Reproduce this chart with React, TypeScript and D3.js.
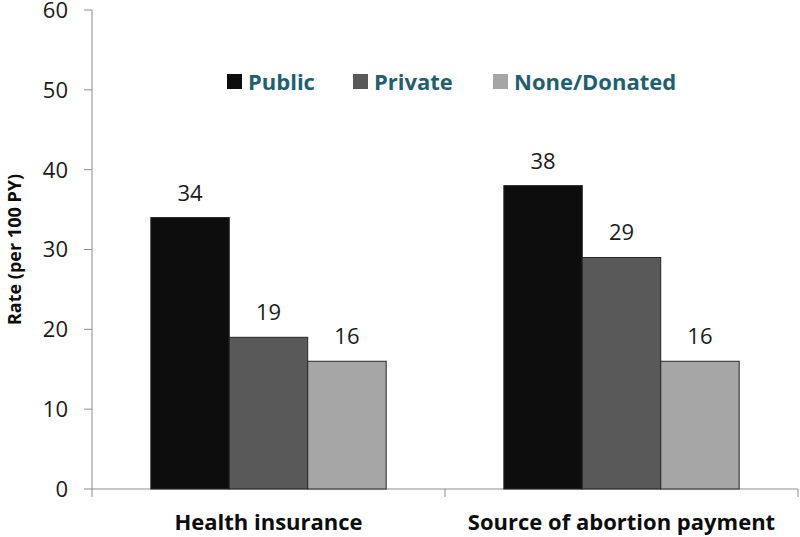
import React from "react";
import * as d3 from "d3";

const categories = ["Health insurance", "Source of abortion payment"];
const seriesNames = ["Public", "Private", "None/Donated"];
const publicValues = [34, 38];
const privateValues = [19, 29];
const noneValues = [16, 16];
const yTicks = [0, 10, 20, 30, 40, 50, 60];
const seriesColors = ["#0d0d0d", "#595959", "#a6a6a6"];

const W = 800;
const H = 537;
const FONT = "'Open Sans', 'DejaVu Sans', sans-serif";

export default function App() {
  const x0 = 92, x1 = 798, yTop = 10, yBottom = 489;
  const x = d3.scaleBand<string>().domain(categories).range([x0, x1]).paddingInner(0).paddingOuter(0);
  const xs = d3.scaleBand<string>().domain(seriesNames).range([0, x.bandwidth()]).paddingInner(0).paddingOuter(0.75);
  const y = d3.scaleLinear().domain([0, 60]).range([yBottom, yTop]);
  const values = [publicValues, privateValues, noneValues];

  return (
    <svg width={W} height={H} style={{ position: "absolute", left: 0, top: 0, background: "#fff" }}>
      <rect x={0} y={0} width={W} height={H} fill="#fff" />
      {/* y axis */}
      <line x1={x0} x2={x0} y1={yTop} y2={yBottom} stroke="#8c8c8c" strokeWidth={1} />
      {yTicks.map((t) => (
        <g key={t}>
          <line x1={x0 - 8} x2={x0} y1={y(t)} y2={y(t)} stroke="#8c8c8c" />
          <text x={68} y={y(t)} dy="0.36em" textAnchor="end" fontFamily={FONT} fontSize={22} fill="#1a1a1a">
            {t}
          </text>
        </g>
      ))}
      {/* x axis */}
      <line x1={x0} x2={x1} y1={yBottom} y2={yBottom} stroke="#8c8c8c" />
      {[x0, x1 - x.bandwidth(), x1].map((v, i) => (
        <line key={i} x1={v} x2={v} y1={yBottom} y2={yBottom + 8} stroke="#8c8c8c" />
      ))}
      {/* bars */}
      {categories.map((c, ci) =>
        seriesNames.map((s, si) => {
          const v = values[si][ci];
          const bx = (x(c) as number) + (xs(s) as number);
          return (
            <g key={c + s}>
              <rect x={bx} y={y(v)} width={xs.bandwidth()} height={yBottom - y(v)} fill={seriesColors[si]} stroke="#262626" strokeWidth={1} />
              <text x={bx + xs.bandwidth() / 2} y={y(v) - 17} textAnchor="middle" fontFamily={FONT} fontSize={22} fill="#1a1a1a">
                {v}
              </text>
            </g>
          );
        })
      )}
      {/* category labels */}
      {categories.map((c) => (
        <text key={c} x={(x(c) as number) + x.bandwidth() / 2} y={530} textAnchor="middle" fontFamily={FONT} fontSize={22} fontWeight="bold" fill="#0d0d0d">
          {c}
        </text>
      ))}
      {/* y title */}
      <text transform={`translate(21, ${(yTop + yBottom) / 2}) rotate(-90)`} textAnchor="middle" fontFamily={FONT} fontSize={18} fontWeight="bold" fill="#0d0d0d">
        Rate (per 100 PY)
      </text>
      {/* legend */}
      {[
        { sx: 227, tx: 248 },
        { sx: 353, tx: 374 },
        { sx: 493, tx: 514 },
      ].map((p, i) => (
        <g key={seriesNames[i]}>
          <rect x={p.sx} y={74} width={15} height={15} fill={seriesColors[i]} />
          <text x={p.tx} y={82} dy="0.35em" fontFamily={FONT} fontSize={22} fontWeight="bold" fill="#215f6e">
            {seriesNames[i]}
          </text>
        </g>
      ))}
    </svg>
  );
}
